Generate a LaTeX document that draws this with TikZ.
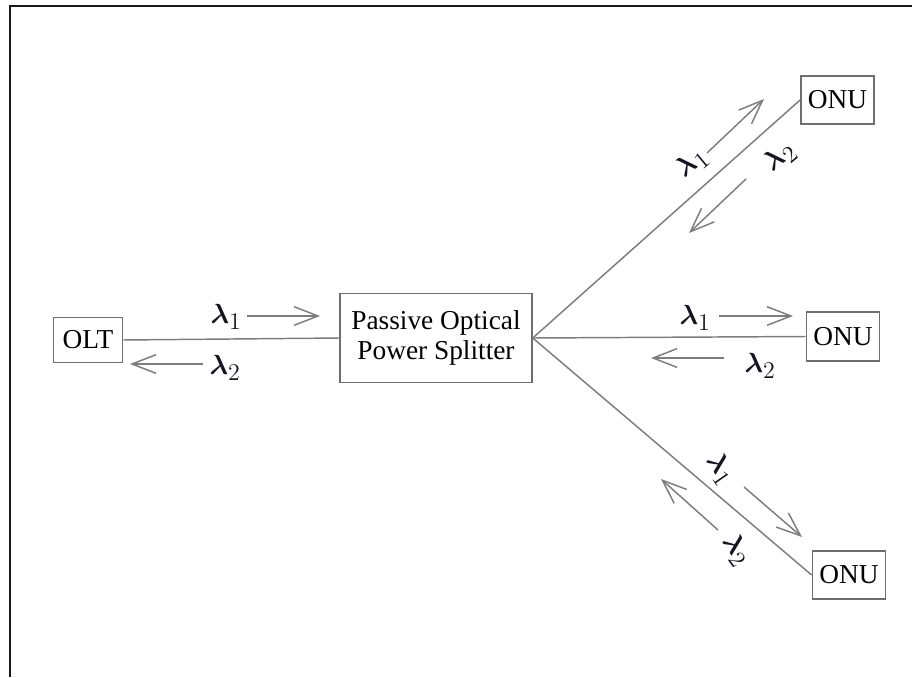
\documentclass[tikz,border=0pt]{standalone}
\usepackage{amsmath}
\usepackage{graphicx}
\usepackage{fontspec}
\setmainfont{Liberation Serif}
\usetikzlibrary{arrows.meta}
\definecolor{linegray}{RGB}{125,125,125}
\definecolor{boxgray}{RGB}{110,110,110}
\definecolor{lamcol}{RGB}{20,20,35}
\newcommand{\lamsub}[1]{$\boldsymbol{\lambda}_{\scalebox{1.25}{$\scriptstyle #1$}}$}
\begin{document}
\begin{tikzpicture}[x=0.75pt,y=-0.75pt,
  box/.style={draw=boxgray,line width=1.1pt,inner sep=0pt,align=center,
    font=\fontsize{20.5}{23}\selectfont},
  fiber/.style={draw=linegray,line width=1.1pt},
  sig/.style={draw=linegray,line width=1.1pt,
    -{Straight Barb[length=18pt,width=14pt,line width=1.1pt]}},
  lam/.style={inner sep=0pt,text=lamcol,font=\fontsize{21}{24}\selectfont}]
\useasboundingbox (0,0) rectangle (912,677);
% frame
\draw[line width=1.5pt,black!90] (912,6) -- (10,6) -- (10,677);
% nodes
\node[box,minimum width=52pt,minimum height=34pt] (olt) at (88,340) {OLT};
\node[box,minimum width=144pt,minimum height=67pt] (split) at (436,338)
  {Passive Optical\\[0pt]Power Splitter};
\node[box,minimum width=55pt,minimum height=36pt] (onu1) at (837.5,100) {ONU};
\node[box,minimum width=55pt,minimum height=37pt] (onu2) at (843,336.5) {ONU};
\node[box,minimum width=55pt,minimum height=36pt] (onu3) at (849,575) {ONU};
% fibers
\draw[fiber] (olt.east) -- (split.west);
\draw[fiber] (split.east) -- (onu1.west);
\draw[fiber] (split.east) -- (onu2.west);
\draw[fiber] (split.east) -- (onu3.west);
% arrow end coordinates
\coordinate (a1s) at (247,316); \coordinate (a1e) at (320,316);
\coordinate (a2s) at (203,364); \coordinate (a2e) at (130,364);
\coordinate (b1s) at (707,153); \coordinate (b1e) at (764,99);
\coordinate (b2s) at (746,179); \coordinate (b2e) at (689,233);
\coordinate (c1s) at (719,316); \coordinate (c1e) at (793,316);
\coordinate (c2s) at (724,358); \coordinate (c2e) at (651,358);
\coordinate (d1s) at (744,487); \coordinate (d1e) at (802,537);
\coordinate (d2s) at (718,530); \coordinate (d2e) at (661,479);
\draw[sig] (a1s) -- (a1e);
\draw[sig] (a2s) -- (a2e);
\draw[sig] (b1s) -- (b1e);
\draw[sig] (b2s) -- (b2e);
\draw[sig] (c1s) -- (c1e);
\draw[sig] (c2s) -- (c2e);
\draw[sig] (d1s) -- (d1e);
\draw[sig] (d2s) -- (d2e);
% labels
\node[lam] (la1) at (226,317) {\lamsub{1}};
\node[lam] (la2) at (225,368) {\lamsub{2}};
\node[lam,rotate=40] (lb1) at (692,163) {\lamsub{1}};
\node[lam,rotate=40] (lb2) at (780,157) {\lamsub{2}};
\node[lam] (lc1) at (695,318) {\lamsub{1}};
\node[lam] (lc2) at (760,366) {\lamsub{2}};
\node[lam,rotate=-55] (ld1) at (720,469) {\lamsub{1}};
\node[lam,rotate=-55] (ld2) at (736,550) {\lamsub{2}};
\end{tikzpicture}
\end{document}
